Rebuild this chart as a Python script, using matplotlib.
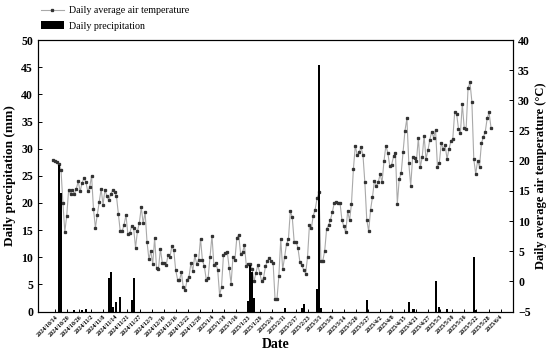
import numpy as np
import pandas as pd
import matplotlib
matplotlib.use("Agg")
import matplotlib.pyplot as plt
import matplotlib.dates as mdates

# daily mean air temperature (degC), one value per day from 2024/10/13
temp = [20.1, 20.0, 19.8, 19.5, 18.5, 13.0, 8.2, 10.9, 15.2, 14.5,
        15.1, 14.5, 15.3, 16.6, 14.9, 16.3, 17.1, 16.5, 14.9, 15.6,
        17.5, 12.0, 8.9, 11.0, 13.2, 15.3, 12.7, 15.2, 14.1, 13.5,
        14.4, 15.1, 14.8, 14.2, 11.2, 8.3, 8.3, 9.4, 11.0, 7.8,
        8.0, 9.2, 8.8, 5.6, 8.3, 9.7, 12.3, 9.6, 11.5, 6.6,
        3.7, 5.0, 2.9, 7.2, 2.2, 2.0, 5.4, 3.1, 3.1, 2.7,
        4.3, 4.0, 5.8, 5.2, 1.9, 0.3, 0.2, 1.5, -1.0, -1.4,
        0.3, 0.8, 3.1, 1.8, 4.3, 2.9, 3.5, 7.1, 3.5, 2.5,
        0.3, 0.6, 4.1, 7.6, 2.7, 3.0, 1.9, -2.3, -0.9, 4.3,
        4.7, 4.9, 2.2, -0.4, 4.1, 3.6, 7.2, 7.7, 4.5, 4.8,
        6.0, 2.5, 2.8, 2.8, 2.1, 0.0, 1.4, 2.7, 1.4, 0.0,
        0.6, 2.5, 3.4, 3.9, 3.4, 3.0, -2.9, -3.0, 0.9, 7.0,
        2.0, 4.0, 6.2, 7.0, 11.6, 10.7, 6.6, 6.6, 5.5, 3.2,
        2.7, 1.9, 1.3, 4.0, 9.3, 8.8, 10.9, 11.9, 13.8, 14.8,
        3.4, 3.4, 5.1, 8.7, 9.3, 10.2, 11.5, 13.0, 13.2, 13.0,
        13.0, 10.2, 9.1, 8.1, 11.6, 10.1, 12.9, 18.6, 22.5, 20.9,
        21.4, 22.2, 21.0, 16.4, 10.2, 8.3, 11.9, 14.0, 16.7, 15.8,
        16.4, 17.8, 16.4, 19.9, 22.5, 21.3, 19.2, 19.3, 20.7, 21.3,
        12.9, 17.0, 17.9, 21.4, 25.0, 27.0, 19.6, 15.8, 20.6, 20.5,
        20.0, 23.8, 18.9, 20.6, 24.1, 20.3, 21.7, 23.5, 24.8, 23.8,
        25.1, 19.0, 19.7, 23.0, 21.9, 22.6, 20.3, 21.9, 23.2, 23.6,
        28.0, 27.8, 25.3, 24.6, 29.4, 25.4, 25.3, 32.0, 33.0, 29.8,
        20.3, 17.8, 20.0, 19.0, 22.9, 23.9, 24.8, 27.0, 28.0, 25.5]

# days with rain (all other days 0 mm)
rain_dates = ["2024-10-16", "2024-10-17", "2024-10-24", "2024-10-28", "2024-10-30",
              "2024-11-11", "2024-11-12", "2024-11-13", "2024-11-15", "2024-11-17",
              "2024-11-23", "2024-11-24", "2025-01-23", "2025-01-24", "2025-01-25",
              "2025-01-26", "2025-02-11", "2025-02-20", "2025-02-21", "2025-02-28",
              "2025-03-01", "2025-03-02", "2025-03-26", "2025-04-17", "2025-04-19",
              "2025-04-20", "2025-05-01", "2025-05-03", "2025-05-07", "2025-05-21",
              "2025-05-22"]
rain_mm = [27.0, 21.8, 0.2, 0.2, 0.5,
           6.1, 7.2, 0.9, 1.7, 2.6,
           2.1, 6.1, 1.9, 8.6, 7.2,
           2.4, 0.6, 0.7, 1.4, 4.1,
           45.4, 0.6, 2.1, 1.7, 0.4,
           0.5, 5.7, 0.9, 0.5, 10.1,
           0.3]

tick_labels = ["2024/10/14", "2024/10/20", "2024/10/26", "2024/11/2", "2024/11/8",
               "2024/11/14", "2024/11/21", "2024/11/27", "2024/12/3", "2024/12/10",
               "2024/12/16", "2024/12/22", "2024/12/28", "2025/1/4", "2025/1/10",
               "2025/1/16", "2025/1/23", "2025/1/29", "2025/2/4", "2025/2/11",
               "2025/2/17", "2025/2/23", "2025/3/1", "2025/3/8", "2025/3/14",
               "2025/3/20", "2025/3/27", "2025/4/2", "2025/4/8", "2025/4/15",
               "2025/4/21", "2025/4/27", "2025/5/3", "2025/5/10", "2025/5/16",
               "2025/5/22", "2025/5/28", "2025/6/4"]

days = pd.date_range("2024-10-13", periods=len(temp), freq="D")
rain_days = pd.to_datetime(rain_dates)

plt.rcParams["font.family"] = ["Liberation Serif", "DejaVu Serif"]

fig = plt.figure(figsize=(5.5, 3.53), dpi=100)
ax = fig.add_axes([0.069, 0.1175, 0.864, 0.769])
ax2 = ax.twinx()

# bars drawn above the temperature line
ax.set_zorder(ax2.get_zorder() + 1)
ax.patch.set_visible(False)

bars = ax.bar(rain_days, rain_mm, width=1.0, color="black", linewidth=0,
              label="Daily precipitation")
line, = ax2.plot(days, temp, color="#a9a9a9", lw=0.8, marker="s", ms=1.4,
                 mfc="#333333", mec="#333333",
                 label="Daily average air temperature")

# evenly spaced date ticks, first and last from the labels
t0 = mdates.date2num(pd.Timestamp("2024-10-14"))
t1 = mdates.date2num(pd.Timestamp("2025-06-04"))
ticks = np.linspace(t0, t1, len(tick_labels))
ax.set_xlim(t0 - 9.06, t1 + 6.6)
ax.set_xticks(ticks)

ax.set_ylim(0, 50)
ax.set_yticks(np.arange(0, 51, 5))
ax2.set_ylim(-5, 40)
ax2.set_yticks(np.arange(-5, 41, 5))

for a in (ax, ax2):
    a.tick_params(axis="y", direction="in", length=3, width=0.7, labelsize=8.5)
    for s in a.spines.values():
        s.set_linewidth(0.8)
ax.tick_params(axis="x", direction="in", length=2.5, width=0.7, pad=2)
ax.set_xticklabels(tick_labels, rotation=45, ha="right", rotation_mode="anchor",
                   fontsize=4.3, fontweight="bold")
for lab in ax.get_yticklabels() + ax2.get_yticklabels():
    lab.set_fontweight("bold")

ax.set_xlabel("Date", fontsize=10, fontweight="bold", labelpad=0)
ax.set_ylabel("Daily precipitation (mm)", fontsize=9.5, fontweight="bold", labelpad=4)
ax2.set_ylabel("Daily average air temperature (°C)", fontsize=9, fontweight="bold", labelpad=3)

fig.legend([line, bars], [line.get_label(), bars.get_label()],
           loc="upper left", bbox_to_anchor=(0.063, 1.0), frameon=False,
           fontsize=7.2, handlelength=2.3, handleheight=0.8, labelspacing=0.6,
           handletextpad=0.5, borderaxespad=0.2)

fig.savefig("out.png", dpi=100)
